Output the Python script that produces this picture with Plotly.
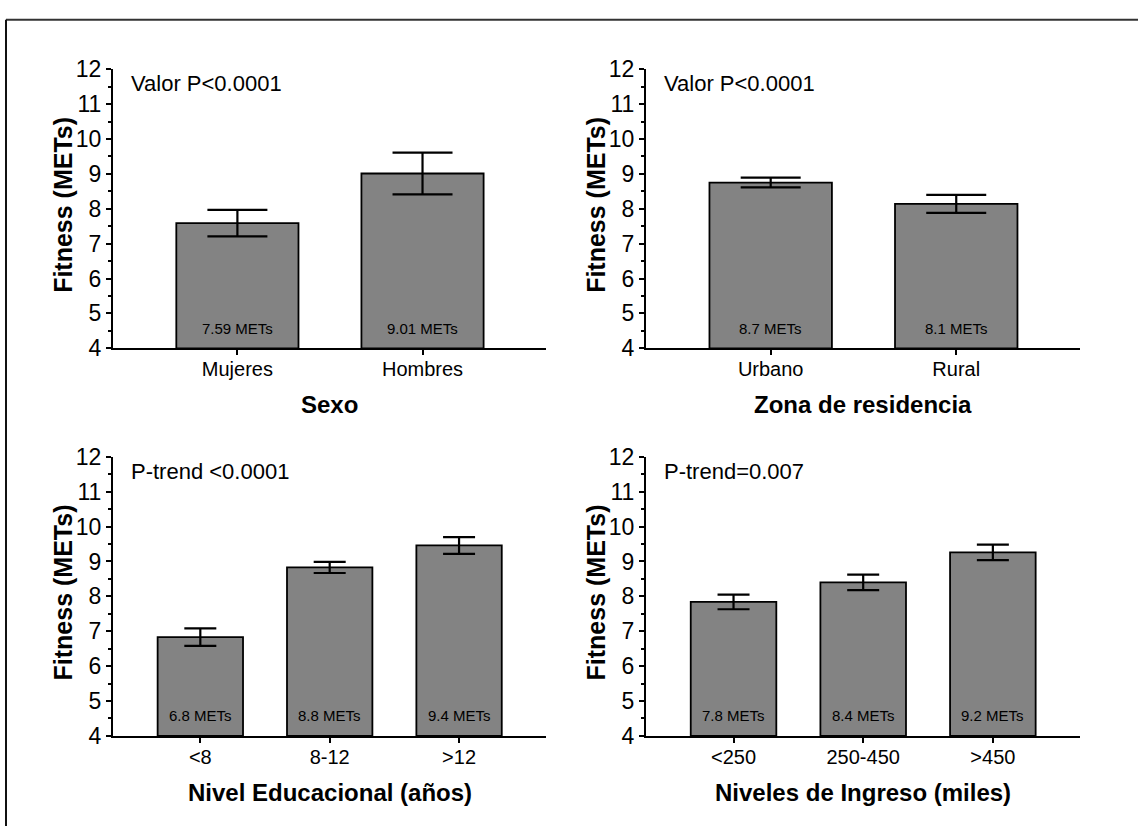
import plotly.graph_objects as go

# ---- data ----
sexo_cats = ["Mujeres", "Hombres"]
sexo_vals = [7.59, 9.01]
sexo_err = [0.38, 0.60]
sexo_labels = ["7.59 METs", "9.01 METs"]

zona_cats = ["Urbano", "Rural"]
zona_vals = [8.75, 8.14]
zona_err = [0.14, 0.26]
zona_labels = ["8.7 METs", "8.1 METs"]

edu_cats = ["<8", "8-12", ">12"]
edu_vals = [6.83, 8.83, 9.46]
edu_err = [0.25, 0.16, 0.24]
edu_labels = ["6.8 METs", "8.8 METs", "9.4 METs"]

ing_cats = ["<250", "250-450", ">450"]
ing_vals = [7.84, 8.40, 9.26]
ing_err = [0.21, 0.22, 0.22]
ing_labels = ["7.8 METs", "8.4 METs", "9.2 METs"]

p_texts = ["Valor P<0.0001", "Valor P<0.0001", "P-trend <0.0001", "P-trend=0.007"]
x_titles = ["Sexo", "Zona de residencia", "Nivel Educacional (años)", "Niveles de Ingreso (miles)"]
y_title = "Fitness (METs)"

W, H = 1138, 839
FONT = "Liberation Sans, Arial, sans-serif"
BAR_COLOR = "#838383"

panels = [
    (sexo_cats, sexo_vals, sexo_err, sexo_labels),
    (zona_cats, zona_vals, zona_err, zona_labels),
    (edu_cats, edu_vals, edu_err, edu_labels),
    (ing_cats, ing_vals, ing_err, ing_labels),
]

# pixel layout of each panel: (x_left, x_right, y_top(12), y_bottom(4))
px_layout = [
    (113, 546, 58, 346),
    (646, 1080, 58, 346),
    (113, 546, 458, 746),
    (646, 1080, 458, 746),
]
cap_half = [30, 30, 16, 16]

fig = go.Figure()
annotations = []

for i, (cats, vals, errs, labels) in enumerate(panels):
    n = i + 1
    xa = "x" if n == 1 else f"x{n}"
    ya = "y" if n == 1 else f"y{n}"
    xl, xr, yt, yb = px_layout[i]
    ncat = len(cats)
    width = 0.66
    fig.add_trace(go.Bar(
        x=cats, y=[v - 4 for v in vals], base=4,
        xaxis=xa, yaxis=ya,
        marker=dict(color=BAR_COLOR, line=dict(color="black", width=1.8)),
        width=width,
        error_y=dict(type="data", array=errs, color="black", thickness=2.2, width=cap_half[i]),
        showlegend=False, hoverinfo="skip",
    ))
    xkey = "xaxis" if n == 1 else f"xaxis{n}"
    ykey = "yaxis" if n == 1 else f"yaxis{n}"
    left_off = -0.672 if ncat == 2 else -0.675
    right_off = (ncat - 1) + (0.667 if ncat == 2 else 0.672)
    fig.update_layout(**{
        xkey: dict(
            domain=[xl / W, xr / W], anchor=ya,
            type="category", categoryorder="array", categoryarray=cats,
            range=[left_off, right_off],
            showline=True, linecolor="black", linewidth=2,
            ticks="outside", ticklen=5, tickwidth=2, tickcolor="black",
            ticklabelstandoff=-3,
            tickfont=dict(family=FONT, size=20, color="black"),
            showgrid=False, zeroline=False, fixedrange=True,
        ),
        ykey: dict(
            domain=[1 - yb / H, 1 - yt / H], anchor=xa,
            range=[4, 12], tickmode="linear", tick0=4, dtick=1,
            showline=True, linecolor="black", linewidth=2,
            ticks="outside", ticklen=5, tickwidth=2, tickcolor="black",
            minor=dict(dtick=0.5, tick0=4, ticks="outside", ticklen=3, tickwidth=1.5, tickcolor="black"),
            tickfont=dict(family=FONT, size=23, color="black"),
            showgrid=False, zeroline=False, fixedrange=True,
        ),
    })
    # value labels inside bars
    for c, lab in zip(cats, labels):
        annotations.append(dict(
            x=c, y=4, xref=xa, yref=ya, text=lab, showarrow=False,
            yanchor="middle", yshift=20,
            font=dict(family=FONT, size=15, color="black"),
        ))
    # p-value text
    annotations.append(dict(
        x=(xl + 16) / W, y=1 - (yt + 15) / H, xref="paper", yref="paper",
        text=p_texts[i], showarrow=False, xanchor="left", yanchor="middle",
        font=dict(family=FONT, size=22, color="black"),
    ))
    # y title
    annotations.append(dict(
        x=(xl - 50) / W, y=1 - ((yt + yb) / 2 - 4) / H, xref="paper", yref="paper",
        text="<b>" + y_title + "</b>", showarrow=False, textangle=-90,
        xanchor="center", yanchor="middle",
        font=dict(family=FONT, size=25, color="black"),
    ))
    # x title
    annotations.append(dict(
        x=(xl + xr) / 2 / W, y=1 - (yb + 58) / H, xref="paper", yref="paper",
        text="<b>" + x_titles[i] + "</b>", showarrow=False,
        xanchor="center", yanchor="middle",
        font=dict(family=FONT, size=24, color="black"),
    ))

shapes = [
    dict(type="line", xref="paper", yref="paper", x0=6 / W, x1=1.0, y0=1 - 7 / H, y1=1 - 7 / H,
         line=dict(color="#333333", width=2)),
    dict(type="line", xref="paper", yref="paper", x0=6 / W, x1=6 / W, y0=0, y1=1 - 7 / H,
         line=dict(color="#111111", width=2)),
]

fig.update_layout(
    width=W, height=H,
    margin=dict(l=0, r=0, t=0, b=0),
    paper_bgcolor="white", plot_bgcolor="white",
    annotations=annotations, shapes=shapes,
    font=dict(family=FONT, color="black"),
)

post = (
    "document.documentElement.style.margin='0';"
    "document.documentElement.style.overflow='hidden';"
    "document.body.style.margin='0';document.body.style.overflow='hidden';"
    "var gd=document.getElementById('{plot_id}');"
    "gd.style.position='fixed';gd.style.top='0px';gd.style.left='0px';"
)

fig.write_html("out.html", config={"displayModeBar": False}, post_script=post)
